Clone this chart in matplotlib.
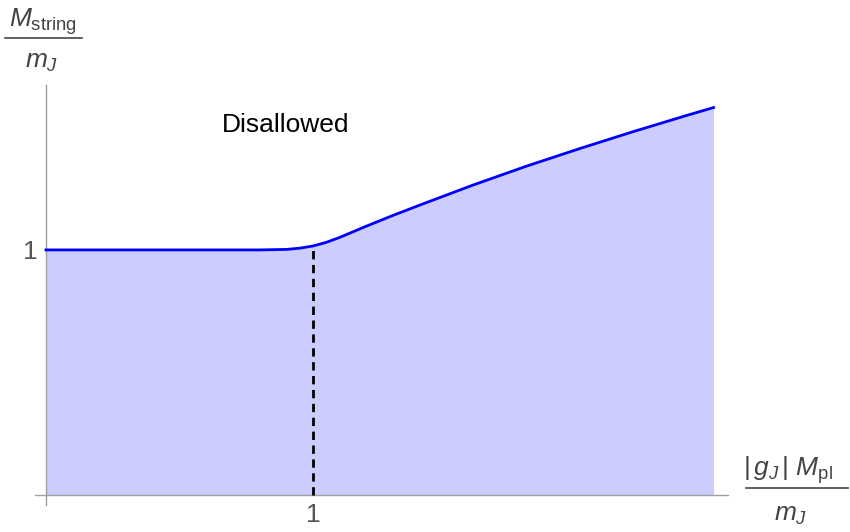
import matplotlib
matplotlib.use("Agg")
import matplotlib.pyplot as plt
from matplotlib.lines import Line2D

# curve: M_string/m_J vs |g_J| M_pl / m_J
ratio = [0.0, 0.5, 0.8, 0.9, 0.95, 1.0, 1.05, 1.1, 1.15, 1.2, 1.3, 1.4, 1.6, 1.8, 2.0, 2.2, 2.4, 2.5]
mass = [1.0, 1.0, 1.0, 1.002, 1.007, 1.016, 1.031, 1.051, 1.074, 1.097, 1.141, 1.183, 1.265, 1.342, 1.414, 1.483, 1.549, 1.581]
xticks = [1]
yticks = [1]
x_break = 1.0
y_break = 1.016

plt.rcParams["font.family"] = ["Liberation Sans", "DejaVu Sans"]
plt.rcParams["mathtext.fontset"] = "custom"
plt.rcParams["mathtext.rm"] = "Liberation Sans"
plt.rcParams["mathtext.it"] = "Liberation Sans:italic"

W, H = 850, 532
fig = plt.figure(figsize=(W / 100, H / 100), dpi=100)
# axes box in pixels: left 35, right 728, top 85, bottom 505
ax = fig.add_axes([35 / W, 1 - 505 / H, (728 - 35) / W, (505 - 85) / H])

ax.fill_between(ratio, 0, mass, color="#ccccff", linewidth=0)
ax.plot(ratio, mass, color="#0000ff", lw=2.0, solid_joinstyle="round", zorder=3)
ax.plot([x_break, x_break], [0, y_break], color="black", lw=2.0, ls=(0, (3.0, 2.0)), zorder=2)

ax.set_xlim(-0.041, 2.554)
ax.set_ylim(-0.041, 1.673)

for s in ["top", "right"]:
    ax.spines[s].set_visible(False)
for s in ["left", "bottom"]:
    ax.spines[s].set_position(("data", 0))
    ax.spines[s].set_color("#a0a0a0")
    ax.spines[s].set_linewidth(1.0)
    ax.spines[s].set_zorder(1)

ax.set_xticks(xticks)
ax.set_yticks(yticks)
ax.set_xticklabels([str(t) for t in xticks])
ax.set_yticklabels([str(t) for t in yticks])
ax.tick_params(direction="in", length=4, color="#a0a0a0", labelcolor="#555555",
               labelsize=19, pad=6)

ax.text(0.899, 1.51, "Disallowed", fontsize=19, ha="center", va="center", color="black")

lab_col = "#444444"
def px(x, y):
    return x / W, 1 - y / H

# y label as a fraction at top-left
fig.text(*px(43, 22), r"$M_{\mathrm{string}}$", fontsize=19, ha="center", va="center", color=lab_col)
fig.add_artist(Line2D([5 / W, 82 / W], [1 - 38 / H] * 2, color=lab_col, lw=1.2))
fig.text(*px(42, 62), r"$m_J$", fontsize=19, ha="center", va="center", color=lab_col)

# x label as a fraction at bottom-right
fig.text(*px(788, 470), r"$|\,g_J\,|\ M_{\mathrm{pl}}$", fontsize=19, ha="center", va="center", color=lab_col)
fig.add_artist(Line2D([746 / W, 848 / W], [1 - 488 / H] * 2, color=lab_col, lw=1.2))
fig.text(*px(791, 515), r"$m_J$", fontsize=19, ha="center", va="center", color=lab_col)

fig.savefig("out.png", dpi=100)
